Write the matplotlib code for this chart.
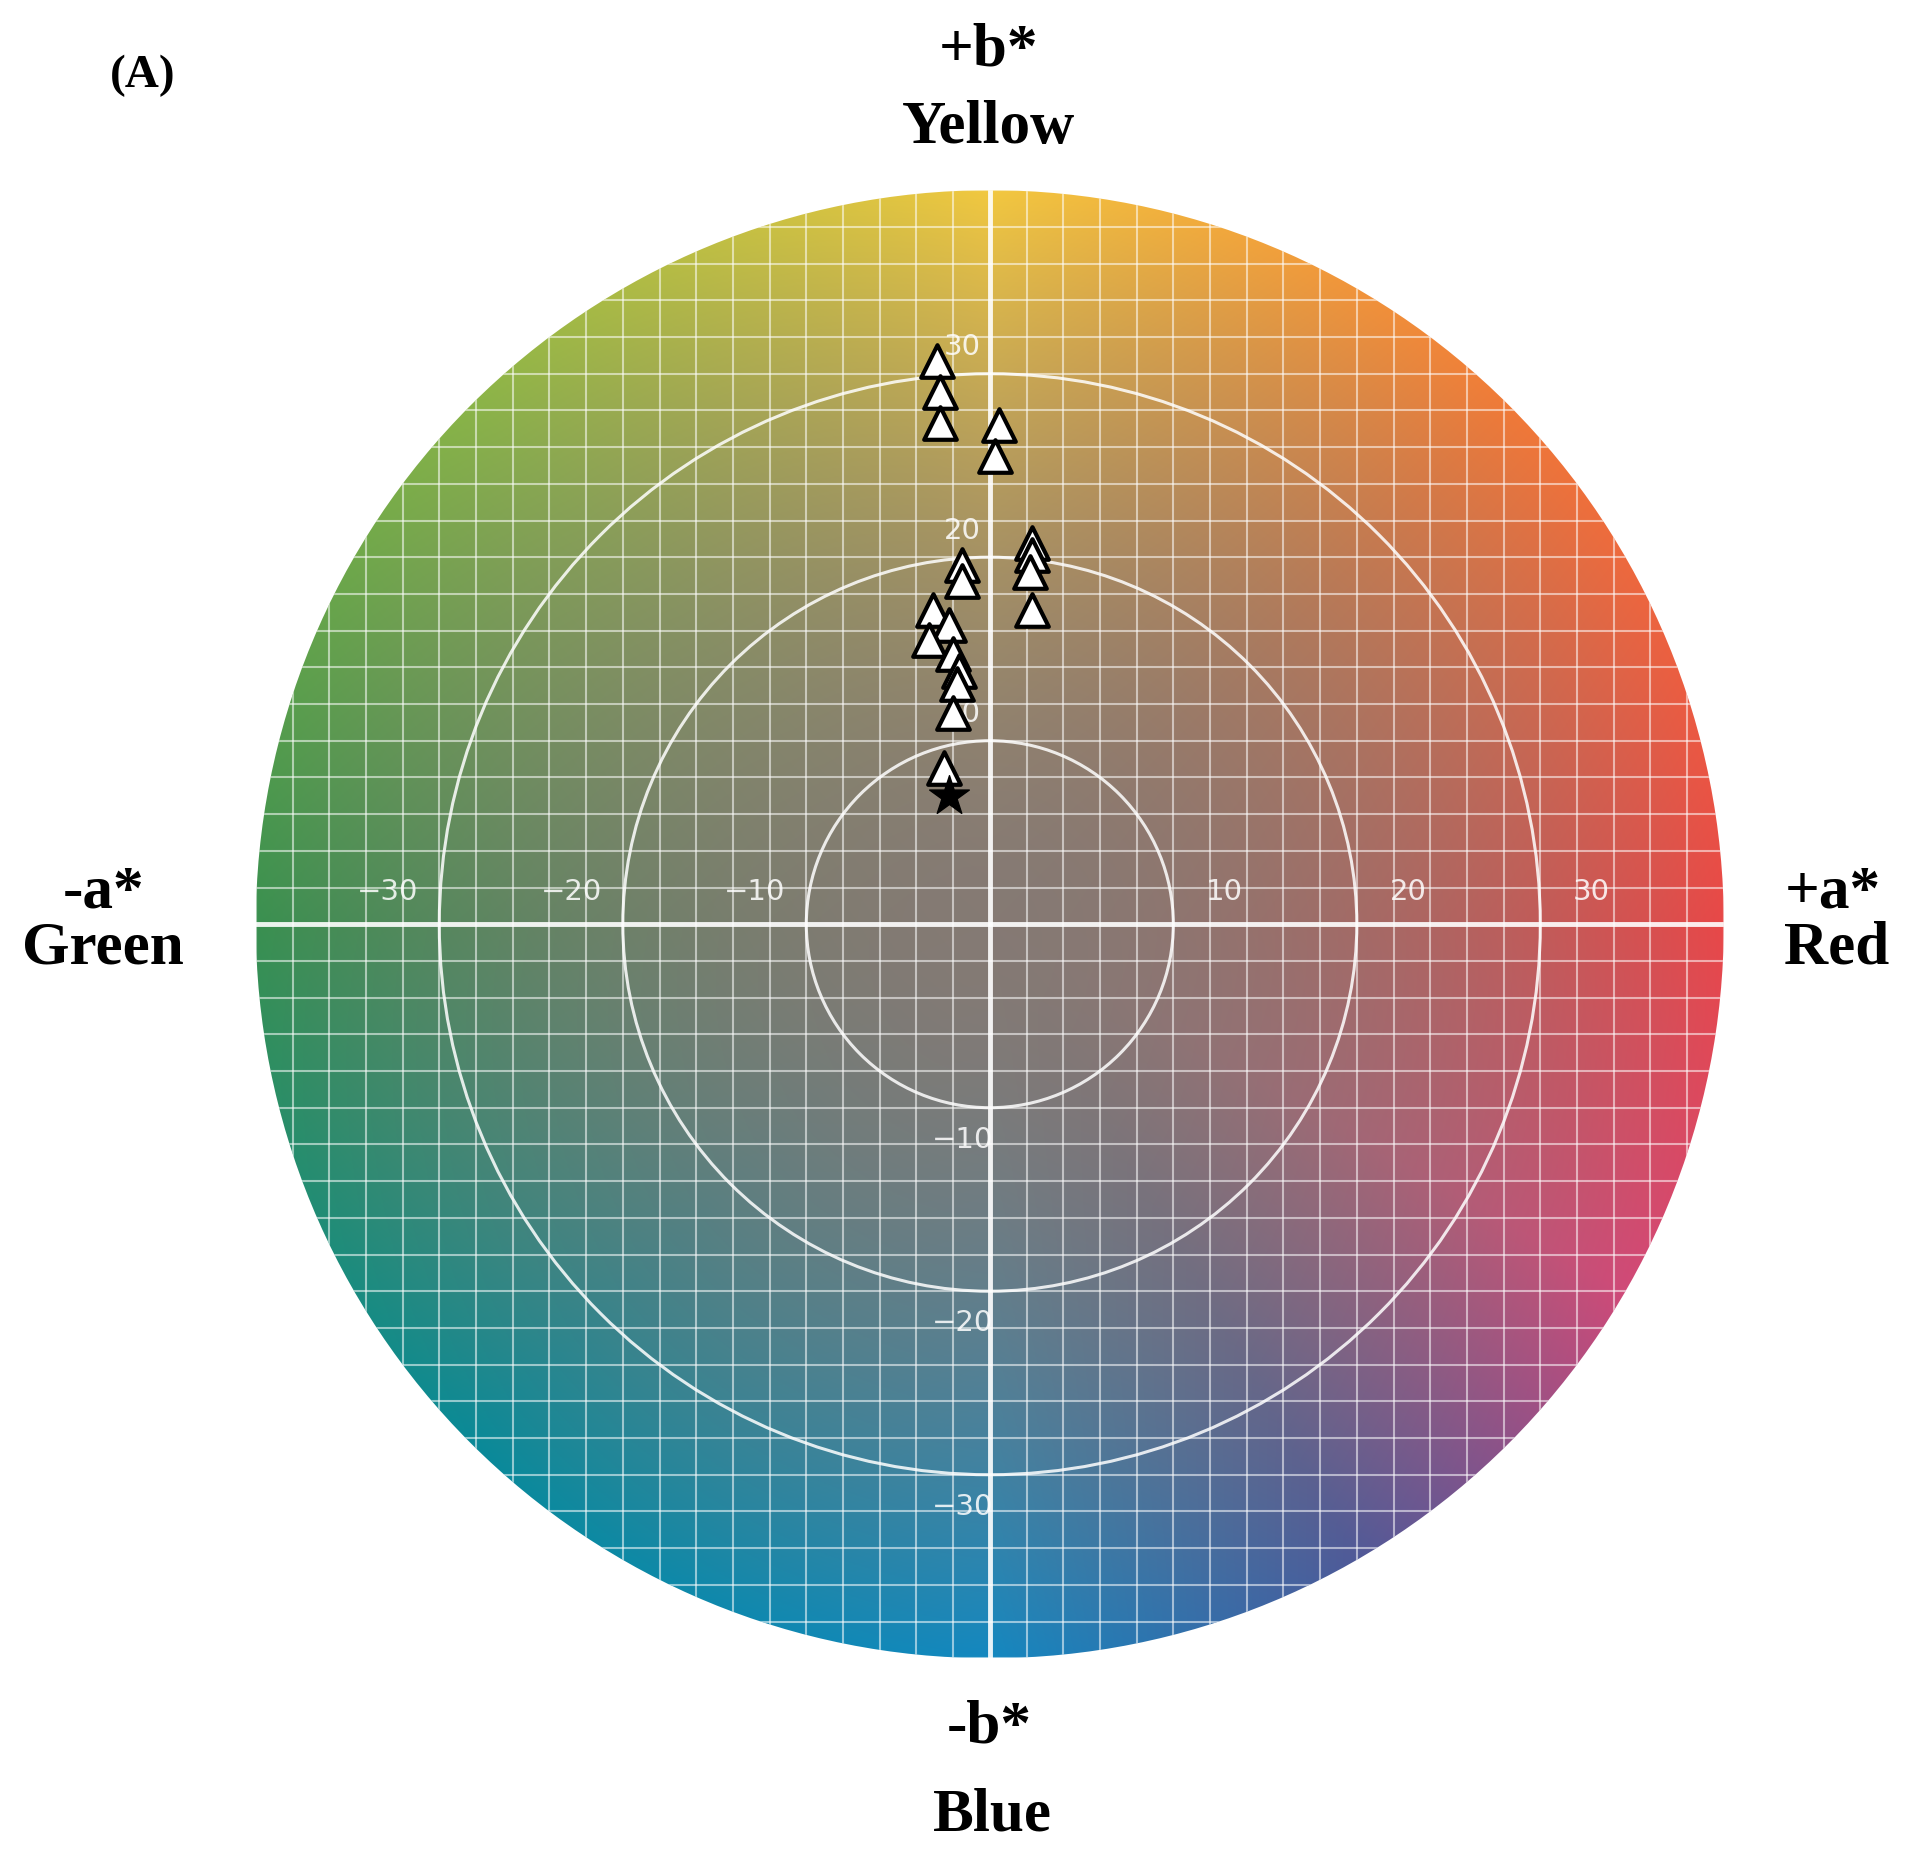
import numpy as np
import matplotlib
matplotlib.use("Agg")
import matplotlib.pyplot as plt
from matplotlib.patches import Circle
from matplotlib.colors import to_rgb

a_vals = [-2.9, -2.7, -2.7, 0.5, 0.3, 2.3, 2.3, 2.2, 2.3, -1.5, -1.5, -3.1, -2.2, -3.3, -2.0, -1.7, -1.8, -2.0, -2.5]
b_vals = [30.7, 29.0, 27.3, 27.2, 25.5, 20.8, 20.1, 19.2, 17.1, 19.6, 18.7, 17.1, 16.3, 15.5, 14.7, 13.8, 13.1, 11.5, 8.5]
star_a = [-2.2]
star_b = [7.0]
ticks = [-30, -20, -10, 10, 20, 30]

fig = plt.figure(figsize=(19.09, 18.56), dpi=100)
ax = fig.add_axes([0.134, 0.106, 0.769, 0.791])
R = 40
n = 600
xs = np.linspace(-R, R, n)
X, Y = np.meshgrid(xs, xs)
ang = (np.degrees(np.arctan2(Y, X)) + 360) % 360
rad = np.sqrt(X**2 + Y**2)
stops_ang = [0, 45, 90, 135, 180, 225, 270, 300, 330, 360]
stops_col = ['#e84848', '#f07a38', '#f2c840', '#8ab448', '#3a9050', '#0a8a98', '#1488c0', '#505a98', '#d04a78', '#e84848']
cols = np.array([to_rgb(c) for c in stops_col])
img = np.zeros(X.shape + (3,))
for k in range(3):
    img[..., k] = np.interp(ang, stops_ang, cols[:, k])
gray = np.array(to_rgb('#857a74'))
w = np.clip(rad / 40, 0, 1)[..., None] ** 1.7
img = gray * (1 - w) + img * w
im = ax.imshow(img, extent=[-R, R, -R, R], origin='lower', zorder=0)
clip = Circle((0, 0), R, transform=ax.transData)
im.set_clip_path(clip)
for g in np.arange(-40, 41, 2):
    if g == 0:
        continue
    l1, = ax.plot([g, g], [-R, R], color='white', lw=1.5, alpha=0.55, zorder=1)
    l2, = ax.plot([-R, R], [g, g], color='white', lw=1.5, alpha=0.55, zorder=1)
    l1.set_clip_path(clip); l2.set_clip_path(clip)
l1, = ax.plot([0, 0], [-R, R], color='white', lw=3.5, alpha=0.9, zorder=2)
l2, = ax.plot([-R, R], [0, 0], color='white', lw=3.5, alpha=0.9, zorder=2)
l1.set_clip_path(clip); l2.set_clip_path(clip)
for r in [10, 20, 30]:
    ax.add_patch(Circle((0, 0), r, fill=False, ec='white', lw=2.2, alpha=0.85, zorder=2))
for t in ticks:
    lab = str(t).replace('-', '\u2212')
    ax.text(t + (2.8 if t > 0 else -2.8), 1.8, lab, color='white', alpha=0.85, fontsize=21, ha='center', va='center', zorder=3)
    ax.text(-1.5, t + (1.5 if t > 0 else -1.7), lab, color='white', alpha=0.85, fontsize=21, ha='center', va='center', zorder=3)
ax.scatter(a_vals, b_vals, marker='^', s=550, facecolor='white', edgecolor='black', linewidths=3, zorder=5)
ax.scatter(star_a, star_b, marker='*', s=900, facecolor='black', edgecolor='black', zorder=5)
ax.set_xlim(-R, R); ax.set_ylim(-R, R)
ax.set_aspect('equal')
ax.axis('off')

kw = dict(fontfamily='Liberation Serif', fontweight='bold', fontsize=44, ha='center', va='center')
fig.text(0.075, 0.959, '(A)', **dict(kw, fontsize=34))
fig.text(0.518, 0.973, '+b*', **kw)
fig.text(0.518, 0.931, 'Yellow', **kw)
fig.text(0.054, 0.519, '-a*', **kw)
fig.text(0.054, 0.489, 'Green', **kw)
fig.text(0.96, 0.519, '+a*', **kw)
fig.text(0.962, 0.489, 'Red', **kw)
fig.text(0.518, 0.069, '-b*', **kw)
fig.text(0.52, 0.022, 'Blue', **kw)
fig.savefig('out.png', dpi=100, facecolor='white')
